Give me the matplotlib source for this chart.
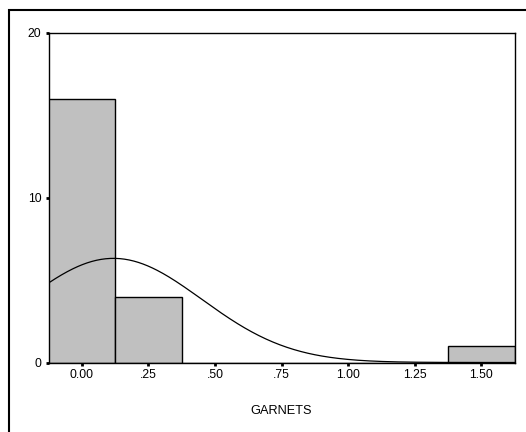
import matplotlib.pyplot as plt
import numpy as np
from matplotlib.patches import Rectangle

plt.rcParams['font.family'] = ['Liberation Sans', 'DejaVu Sans']

bin_centers = [0.00, 0.25, 0.50, 0.75, 1.00, 1.25, 1.50]
counts = [16, 4, 0, 0, 0, 0, 1]
tick_labels = ['0.00', '.25', '.50', '.75', '1.00', '1.25', '1.50']
width = 0.25

fig = plt.figure(figsize=(5.26, 4.32), dpi=100)
ax = fig.add_axes([48.5 / 526, 1 - 362.5 / 432, 466 / 526, 330 / 432])

ax.bar(bin_centers, counts, width, color='#c0c0c0', edgecolor='black', linewidth=1.0, zorder=2)

# normal curve from the histogram's mean and sd
c = np.array(bin_centers)
n = np.array(counts)
N = n.sum()
mean = (c * n).sum() / N
sd = np.sqrt(((c - mean) ** 2 * n).sum() / (N - 1))
xs = np.linspace(-0.125, 1.625, 400)
ys = N * width / (sd * np.sqrt(2 * np.pi)) * np.exp(-0.5 * ((xs - mean) / sd) ** 2)
ax.plot(xs, ys, color='black', linewidth=0.9, zorder=3)

ax.set_xlim(-0.125, 1.625)
ax.set_ylim(0, 20)
ax.set_xticks(bin_centers, tick_labels)
ax.set_yticks([0, 10, 20])
ax.tick_params(length=2, width=2, labelsize=8.8, pad=3)
for s in ax.spines.values():
    s.set_linewidth(1.0)
ax.set_xlabel('GARNETS', fontsize=9.2, labelpad=17)

fig.patches.append(Rectangle((9 / 526, -0.1), 1.2, (1 - 10 / 432) + 0.1, transform=fig.transFigure,
                             fill=False, edgecolor='black', linewidth=1.5))

plt.savefig('out.png', dpi=100)
